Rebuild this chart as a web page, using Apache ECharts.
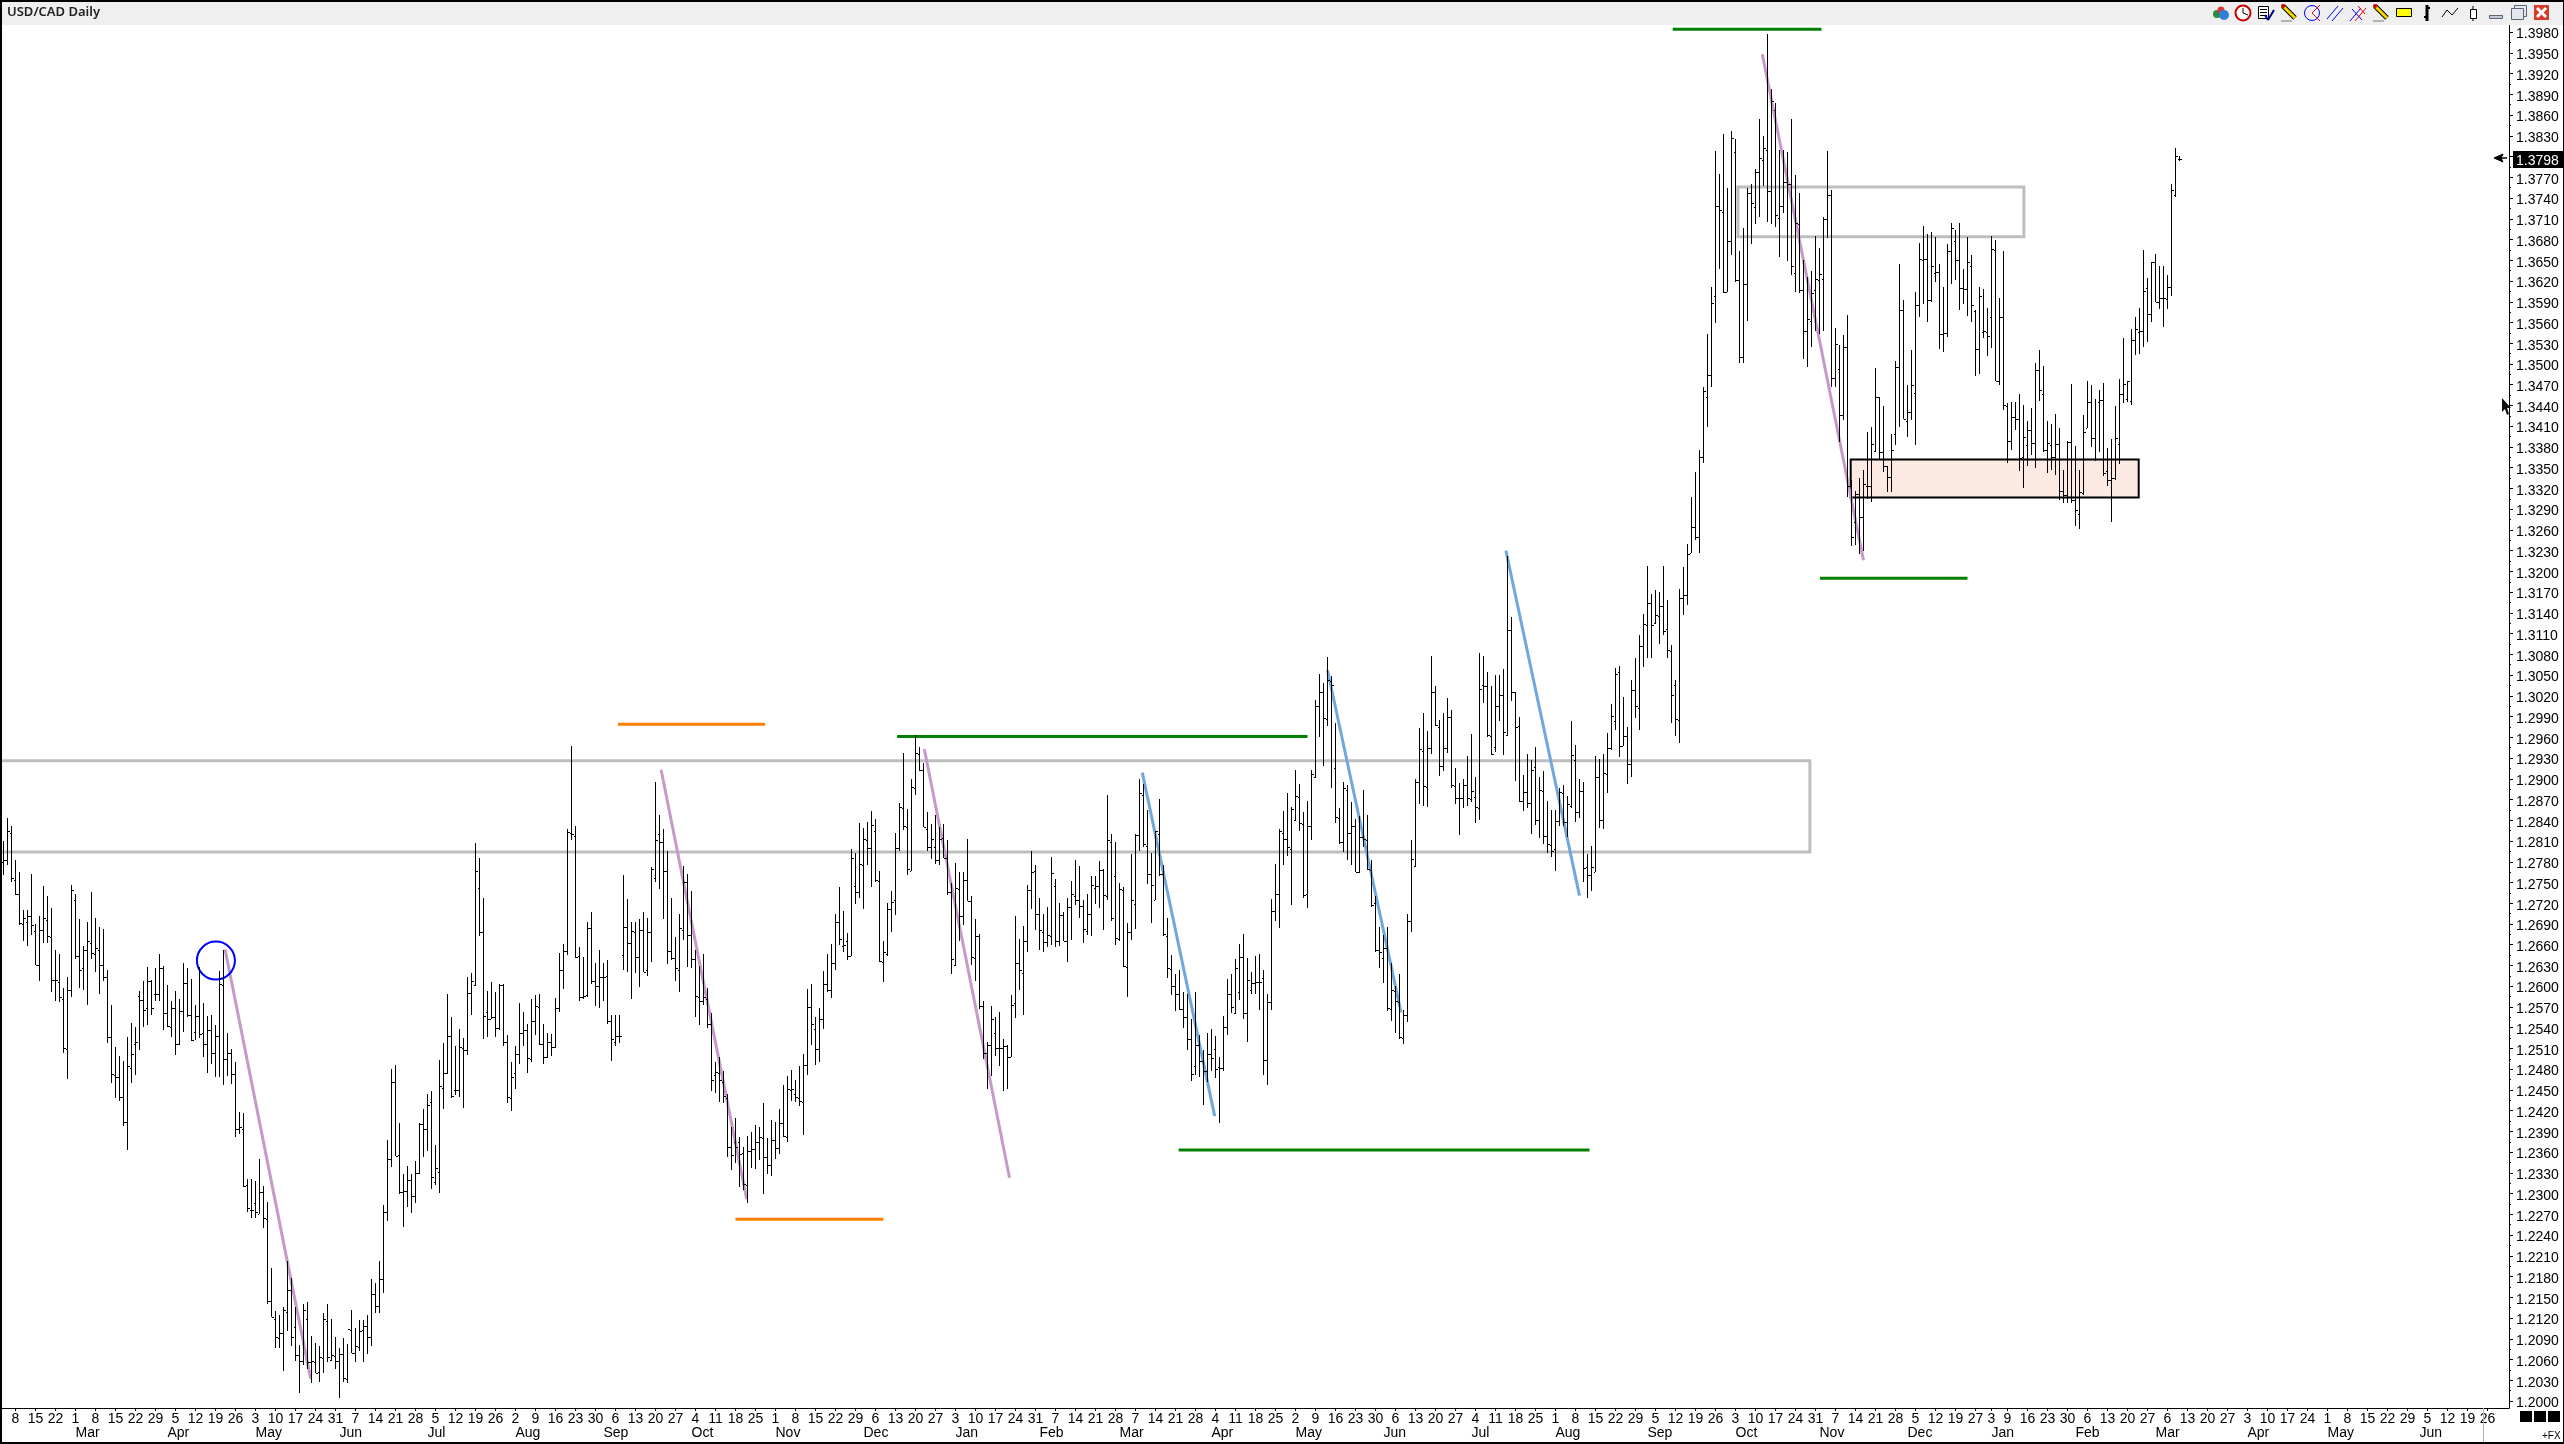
<!DOCTYPE html>
<html>
<head>
<meta charset="utf-8">
<title>USD/CAD Daily</title>
<script src="https://cdn.jsdelivr.net/npm/echarts@6/dist/echarts.min.js"></script>
<style>
  html, body { margin: 0; padding: 0; background: #fff; }
  #chart { width: 2564px; height: 1444px; }
</style>
</head>
<body>
<div id="chart"></div>
<script>
// daily prices, in pips (1.2812 = 12812), first bar is 8 Feb
const highs = [
12812,12846,12833,12784,12767,12712,12712,12764,12692,12703,
12747,12732,12715,12654,12648,12599,12616,12748,12736,12699,
12660,12695,12738,12700,12687,12685,12626,12575,12514,12501,
12494,12528,12549,12543,12595,12609,12630,12611,12628,12648,
12631,12604,12580,12595,12583,12635,12628,12612,12575,12630,
12577,12559,12560,12546,12624,12655,12535,12511,12492,12420,
12418,12323,12323,12320,12352,12313,12290,12194,12132,12127,
12138,12205,12180,12138,12083,12143,12145,12096,12086,12081,
12129,12142,12121,12094,12079,12093,12084,12134,12108,12119,
12119,12126,12179,12172,12205,12286,12380,12482,12488,12404,
12330,12342,12330,12349,12404,12424,12446,12450,12372,12495,
12520,12591,12558,12515,12540,12527,12615,12621,12809,12787,
12730,12595,12608,12593,12605,12605,12531,12492,12515,12577,
12565,12548,12583,12589,12591,12548,12534,12533,12585,12650,
12663,12830,12949,12834,12658,12644,12695,12709,12635,12654,
12635,12640,12560,12560,12560,12763,12728,12695,12695,12699,
12709,12701,12774,12897,12849,12829,12798,12730,12673,12707,
12776,12764,12740,12655,12631,12649,12600,12563,12492,12500,
12480,12446,12399,12411,12384,12369,12385,12391,12401,12399,
12433,12383,12408,12405,12425,12459,12472,12481,12466,12487,
12504,12598,12605,12558,12570,12624,12649,12663,12706,12746,
12711,12679,12801,12795,12838,12831,12839,12856,12844,12769,
12668,12723,12740,12823,12867,12939,12858,12902,12965,12948,
12925,12854,12836,12849,12832,12837,12814,12751,12780,12767,
12767,12815,12732,12699,12677,12581,12521,12573,12557,12565,
12526,12517,12589,12704,12670,12689,12749,12798,12778,12729,
12707,12717,12789,12757,12723,12709,12730,12754,12785,12776,
12727,12736,12762,12762,12783,12771,12879,12822,12810,12751,
12745,12693,12793,12822,12901,12895,12857,12794,12827,12873,
12778,12700,12647,12619,12626,12593,12590,12554,12593,12532,
12510,12535,12540,12530,12499,12559,12613,12620,12642,12663,
12678,12643,12622,12646,12648,12626,12591,12728,12779,12830,
12856,12881,12861,12915,12895,12854,12870,12914,13016,13054,
13041,13078,13050,12982,12860,12897,12893,12868,12844,12848,
12886,12850,12785,12732,12688,12676,12688,12635,12602,12620,
12567,12706,12814,12902,12975,12997,12971,13080,13036,12987,
12997,13019,13002,12917,12896,12902,12935,12967,12905,13084,
13080,13056,13036,13052,13052,13061,13224,13136,13028,12991,
12908,12938,12929,12948,12904,12913,12870,12857,12857,12888,
12893,12877,12986,12951,12902,12897,12793,12805,12935,12931,
12938,12968,13010,13062,13065,13020,12977,13045,13076,13110,
13141,13210,13170,13175,13172,13210,13161,13096,13045,13176,
13208,13242,13310,13346,13377,13469,13545,13614,13810,13777,
13834,13757,13839,13828,13666,13698,13757,13762,13784,13857,
13832,13979,13900,13879,13811,13811,13809,13856,13775,13749,
13653,13628,13637,13687,13670,13715,13810,13753,13554,13529,
13544,13573,13334,13318,13337,13349,13403,13411,13496,13454,
13441,13355,13400,13507,13647,13594,13472,13522,13606,13677,
13701,13690,13693,13685,13646,13614,13675,13706,13696,13706,
13639,13686,13660,13580,13614,13611,13583,13687,13681,13597,
13665,13446,13447,13447,13459,13442,13420,13439,13503,13522,
13499,13420,13415,13430,13410,13349,13391,13473,13383,13348,
13428,13478,13471,13451,13464,13475,13380,13393,13441,13480,
13539,13478,13552,13570,13583,13667,13627,13649,13661,13643,
13644,13631,13762,13815,13803]

const lows = [
12763,12777,12752,12734,12691,12667,12660,12676,12632,12609,
12665,12665,12594,12581,12579,12506,12468,12587,12641,12600,
12596,12575,12642,12623,12591,12610,12520,12462,12441,12436,
12400,12365,12462,12474,12509,12543,12546,12560,12581,12581,
12538,12543,12529,12502,12517,12536,12558,12523,12524,12527,
12500,12477,12490,12471,12471,12459,12472,12460,12384,12388,
12311,12276,12267,12267,12273,12252,12143,12123,12079,12079,
12046,12103,12081,12060,12013,12054,12048,12028,12042,12029,
12043,12058,12060,12048,12007,12029,12028,12071,12058,12074,
12058,12070,12081,12129,12130,12158,12263,12340,12356,12302,
12253,12283,12274,12288,12331,12355,12364,12309,12315,12303,
12424,12475,12441,12445,12442,12426,12502,12560,12603,12675,
12526,12529,12555,12528,12538,12516,12433,12422,12453,12490,
12516,12476,12493,12532,12517,12490,12498,12501,12512,12565,
12598,12647,12814,12643,12580,12583,12587,12605,12574,12570,
12581,12547,12494,12515,12520,12625,12623,12583,12621,12601,
12622,12617,12637,12753,12743,12699,12634,12640,12610,12594,
12669,12630,12629,12558,12546,12575,12541,12451,12447,12435,
12433,12355,12336,12346,12312,12307,12289,12339,12338,12350,
12301,12330,12328,12352,12360,12384,12377,12436,12435,12429,
12387,12474,12517,12488,12493,12540,12594,12585,12625,12661,
12652,12640,12645,12721,12730,12714,12778,12745,12753,12637,
12608,12645,12680,12705,12798,12828,12763,12768,12879,12913,
12832,12798,12786,12779,12778,12787,12734,12620,12631,12668,
12691,12725,12632,12610,12569,12496,12454,12472,12501,12486,
12451,12454,12499,12556,12597,12560,12651,12713,12683,12655,
12651,12658,12661,12658,12660,12668,12637,12669,12720,12701,
12664,12676,12674,12721,12715,12683,12726,12696,12661,12668,
12630,12587,12669,12685,12797,12803,12750,12694,12726,12762,
12674,12614,12589,12566,12568,12542,12510,12465,12474,12470,
12430,12464,12480,12469,12404,12480,12532,12563,12562,12582,
12555,12522,12590,12590,12568,12473,12459,12567,12697,12686,
12778,12791,12719,12841,12826,12730,12715,12814,12903,12962,
12921,12978,12889,12838,12808,12796,12784,12777,12767,12766,
12804,12770,12717,12651,12629,12607,12566,12551,12535,12525,
12518,12550,12681,12775,12866,12863,12861,12938,12979,12906,
12913,12939,12889,12865,12820,12860,12862,12868,12838,12843,
13012,12963,12936,12941,12985,12936,12964,13014,12899,12868,
12855,12860,12822,12835,12817,12808,12795,12789,12768,12834,
12833,12818,12860,12839,12845,12752,12729,12740,12767,12831,
12829,12882,12943,12972,12934,12950,12895,12905,12990,12973,
13063,13076,13076,13126,13097,13110,13077,12982,12964,12954,
13139,13153,13228,13247,13228,13359,13411,13468,13561,13640,
13604,13606,13659,13621,13504,13504,13564,13676,13704,13715,
13760,13708,13705,13700,13657,13720,13651,13630,13606,13604,
13509,13497,13526,13549,13545,13549,13684,13469,13468,13389,
13421,13310,13238,13240,13227,13231,13307,13303,13375,13365,
13346,13317,13317,13385,13411,13423,13396,13421,13385,13570,
13589,13562,13592,13620,13523,13520,13541,13618,13624,13580,
13589,13572,13563,13485,13487,13539,13514,13525,13477,13472,
13436,13359,13377,13406,13347,13322,13354,13370,13352,13448,
13375,13344,13349,13341,13305,13301,13301,13301,13268,13263,
13312,13409,13382,13361,13375,13340,13326,13274,13334,13358,
13445,13447,13442,13515,13517,13526,13534,13562,13591,13582,
13556,13582,13600,13744,13796]

const opens = [
12781,12784,12823,12755,12736,12692,12695,12703,12682,12633,
12684,12698,12673,12611,12608,12584,12511,12596,12727,12645,
12628,12654,12665,12649,12655,12632,12615,12528,12473,12470,
12442,12405,12483,12519,12588,12582,12570,12609,12591,12591,
12628,12563,12543,12570,12518,12566,12606,12560,12536,12559,
12534,12519,12538,12505,12530,12604,12496,12505,12475,12396,
12395,12314,12279,12288,12273,12305,12265,12147,12120,12093,
12101,12131,12162,12109,12068,12060,12120,12059,12059,12044,
12064,12118,12061,12067,12060,12070,12034,12105,12072,12080,
12104,12110,12094,12157,12140,12178,12276,12352,12463,12358,
12305,12306,12321,12298,12332,12402,12396,12435,12319,12333,
12455,12477,12530,12452,12452,12512,12510,12592,12604,12744,
12680,12565,12555,12558,12542,12604,12522,12441,12476,12504,
12535,12539,12497,12551,12572,12518,12499,12522,12514,12571,
12625,12653,12824,12819,12645,12586,12589,12686,12610,12603,
12615,12617,12552,12522,12530,12647,12687,12664,12681,12644,
12683,12625,12681,12758,12822,12810,12769,12653,12643,12625,
12684,12752,12676,12641,12587,12581,12584,12547,12474,12477,
12464,12441,12369,12377,12377,12361,12315,12363,12366,12376,
12383,12355,12343,12379,12368,12404,12384,12452,12446,12440,
12435,12488,12572,12540,12511,12554,12605,12596,12636,12695,
12660,12667,12646,12747,12738,12778,12814,12802,12827,12754,
12637,12649,12714,12726,12802,12860,12832,12769,12889,12938,
12914,12830,12804,12804,12785,12816,12787,12738,12633,12743,
12703,12755,12725,12643,12674,12574,12505,12517,12535,12513,
12512,12515,12500,12577,12635,12621,12667,12741,12769,12707,
12681,12666,12674,12747,12667,12705,12668,12716,12733,12726,
12718,12682,12707,12744,12747,12770,12733,12811,12761,12670,
12741,12630,12681,12721,12821,12879,12805,12765,12727,12822,
12764,12675,12627,12602,12590,12569,12557,12526,12487,12517,
12494,12479,12504,12511,12485,12483,12543,12590,12563,12594,
12644,12563,12596,12606,12608,12614,12495,12579,12711,12735,
12824,12815,12800,12842,12876,12836,12736,12834,12904,13007,
13027,12989,13044,12917,12845,12810,12886,12824,12834,12767,
12818,12814,12770,12722,12654,12643,12657,12569,12595,12579,
12527,12561,12697,12776,12897,12942,12890,12946,13027,12977,
12920,12946,12992,12892,12874,12874,12893,12873,12876,12860,
13037,13036,12964,12948,13007,13023,12965,13117,13027,12979,
12870,12883,12867,12919,12842,12885,12819,12806,12800,12841,
12881,12840,12862,12929,12854,12884,12775,12763,12767,12904,
12842,12909,12946,12985,13057,12950,12964,12924,13030,13005,
13094,13124,13156,13127,13137,13152,13118,13087,13037,12987,
13163,13168,13228,13266,13252,13368,13454,13486,13601,13730,
13722,13606,13680,13809,13623,13512,13617,13749,13729,13779,
13797,13811,13752,13870,13713,13731,13765,13763,13634,13705,
13609,13549,13564,13609,13624,13625,13712,13746,13481,13495,
13428,13526,13326,13273,13314,13280,13326,13326,13376,13454,
13374,13354,13338,13401,13497,13580,13419,13433,13460,13588,
13653,13654,13594,13633,13635,13546,13547,13665,13680,13653,
13612,13611,13643,13579,13524,13548,13548,13570,13667,13477,
13570,13441,13391,13426,13423,13367,13385,13406,13388,13494,
13458,13378,13385,13367,13386,13318,13313,13389,13305,13285,
13316,13409,13447,13395,13447,13450,13347,13334,13337,13386,
13458,13451,13449,13536,13548,13549,13612,13574,13649,13592,
13598,13596,13614,13747,13799]

const closes = [
12784,12826,12758,12736,12693,12700,12703,12690,12633,12684,
12700,12674,12611,12611,12586,12512,12597,12741,12646,12626,
12654,12667,12650,12657,12633,12616,12528,12475,12471,12442,
12405,12486,12504,12521,12582,12568,12609,12570,12591,12628,
12563,12545,12571,12518,12566,12606,12560,12524,12559,12533,
12519,12538,12506,12530,12605,12496,12505,12475,12396,12398,
12313,12281,12279,12275,12305,12266,12147,12123,12095,12101,
12134,12162,12094,12068,12060,12134,12059,12060,12043,12065,
12121,12065,12068,12060,12070,12035,12106,12072,12081,12103,
12110,12094,12157,12140,12178,12276,12352,12463,12357,12304,
12306,12322,12298,12332,12402,12396,12430,12326,12339,12457,
12477,12530,12443,12452,12514,12510,12592,12609,12769,12680,
12559,12554,12557,12542,12604,12521,12442,12470,12504,12535,
12539,12498,12552,12574,12518,12499,12522,12514,12571,12625,
12653,12825,12822,12644,12586,12588,12686,12610,12603,12615,
12615,12552,12525,12530,12530,12688,12664,12682,12644,12683,
12623,12681,12771,12814,12810,12769,12653,12643,12628,12686,
12752,12676,12642,12588,12581,12587,12548,12466,12478,12466,
12443,12370,12358,12370,12360,12316,12363,12366,12377,12384,
12355,12344,12380,12368,12404,12385,12453,12453,12442,12436,
12488,12572,12548,12511,12554,12605,12597,12636,12695,12670,
12662,12646,12787,12738,12779,12815,12802,12835,12755,12638,
12651,12714,12724,12802,12861,12833,12772,12890,12939,12914,
12832,12803,12815,12785,12815,12787,12738,12641,12744,12703,
12755,12725,12644,12674,12573,12506,12517,12554,12513,12512,
12515,12500,12575,12635,12626,12667,12741,12767,12707,12683,
12666,12676,12766,12667,12705,12668,12716,12736,12726,12718,
12685,12707,12748,12747,12770,12734,12813,12700,12672,12743,
12631,12681,12726,12821,12881,12807,12765,12749,12826,12765,
12677,12628,12603,12591,12569,12557,12526,12475,12517,12494,
12479,12504,12498,12482,12483,12543,12590,12572,12628,12644,
12563,12611,12606,12608,12608,12495,12579,12711,12735,12826,
12815,12804,12859,12877,12838,12734,12834,12909,13008,13027,
12990,13045,13038,12847,12810,12889,12824,12834,12767,12818,
12815,12771,12720,12655,12651,12657,12570,12597,12580,12529,
12560,12697,12786,12898,12945,12892,12946,13027,12980,12920,
12946,12991,12893,12874,12874,12893,12874,12884,12861,13032,
13036,12965,12938,13007,13023,12970,13117,13027,12977,12870,
12883,12867,12915,12842,12886,12819,12808,12797,12841,12883,
12840,12865,12936,12854,12884,12773,12763,12774,12904,12842,
12910,12946,12993,13053,12950,12964,12924,13030,13008,13094,
13126,13156,13125,13139,13152,13116,13089,13023,12988,13164,
13168,13227,13266,13252,13368,13463,13486,13590,13731,13725,
13606,13680,13829,13624,13512,13617,13749,13735,13779,13800,
13815,13752,13882,13717,13731,13765,13763,13644,13706,13609,
13549,13567,13604,13625,13632,13712,13746,13481,13531,13428,
13527,13326,13252,13314,13280,13329,13326,13386,13454,13374,
13354,13339,13378,13497,13580,13423,13433,13472,13588,13654,
13654,13594,13643,13635,13545,13547,13665,13698,13653,13612,
13611,13650,13588,13524,13600,13549,13543,13668,13478,13570,
13443,13391,13426,13423,13366,13396,13407,13388,13494,13464,
13378,13388,13367,13386,13318,13313,13389,13305,13291,13317,
13403,13447,13395,13364,13450,13345,13334,13337,13395,13458,
13473,13477,13536,13553,13549,13607,13575,13649,13592,13598,
13597,13614,13754,13803,13798]

// first trading day of each week, as printed on the time axis
const dayLabels = [
'8','15','22','1','8','15','22','29','5','12','19','26','3','10','17','24','31',
'7','14','21','28','5','12','19','26','2','9','16','23','30','6','13','20','27',
'4','11','18','25','1','8','15','22','29','6','13','20','27','3','10','17','24','31',
'7','14','21','28','7','14','21','28','4','11','18','25','2','9','16','23','30',
'6','13','20','27','4','11','18','25','1','8','15','22','29','5','12','19','26',
'3','10','17','24','31','7','14','21','28','5','12','19','27','3','9','16','23','30',
'6','13','20','27','6','13','20','27','3','10','17','24','1','8','15','22','29','5','12','19','26']

// month names and the bar each one starts on
const monthLabels = ['Mar','Apr','May','Jun','Jul','Aug','Sep','Oct','Nov','Dec','Jan','Feb','Mar','Apr','May','Jun','Jul','Aug','Sep','Oct','Nov','Dec','Jan','Feb','Mar','Apr','May','Jun']
const monthBars = [18,41,63,84,106,128,150,172,193,215,238,259,279,302,323,345,367,388,411,433,454,476,497,518,538,561,581,604]

const priceTicks = [
1.398,1.395,1.392,1.389,1.386,1.383,1.377,1.374,1.371,1.368,1.365,1.362,1.359,1.356,1.353,1.35,1.347,1.344,1.341,
1.338,1.335,1.332,1.329,1.326,1.323,1.32,1.317,1.314,1.311,1.308,1.305,1.302,1.299,1.296,1.293,1.29,1.287,1.284,1.281,
1.278,1.275,1.272,1.269,1.266,1.263,1.26,1.257,1.254,1.251,1.248,1.245,1.242,1.239,1.236,1.233,1.23,1.227,1.224,1.221,
1.218,1.215,1.212,1.209,1.206,1.203,1.2]

// drawn studies: [bar, price, bar, price]
const purpleLines = [[55.4,1.2655,76.8,1.2034],[164.4,1.2915,185.8,1.2294],[230.2,1.2945,251.5,1.2325],[439.7,1.3950,465,1.3218]]
const blueLines = [[284.7,1.2911,302.8,1.2414],[331,1.3059,349.4,1.2564],[375.6,1.3232,394,1.2733]]
const greenLines = [[417.3,1.3986,454.5,1.3986],[454.1,1.3192,491,1.3192],[223.4,1.2963,326,1.2963],[293.8,1.2365,396.5,1.2365]]
const orangeLines = [[153.6,1.2981,190.4,1.2981],[183,1.2265,220,1.2265]]
// boxes: [bar, bar, top price, bottom price]
const grayBoxes = [[-3,451.6,1.2928,1.2796],[433.6,505.1,1.3758,1.3686]]
const pinkBoxes = [[461.8,533.8,1.3364,1.3309]]
const circles = [[53.1,1.2639]]

const yMin = 1.19919
const yMax = 1.39923
const xMin = -0.875
const xMax = 626.375

// glyphs sit a little above the 'middle' anchor, and the ticks a little above the glyphs
const labelNudge = -0.00015
const tickNudge = 0.0002

// the week of 26 Dec and 2 Jan lost a holiday each, so those two are one bar short
const weekBars = []
dayLabels.forEach((d, i) => {
  if (i === 0) weekBars.push(3)
  else if (i === 99 || i === 100) weekBars.push(weekBars[i - 1] + 4)
  else weekBars.push(weekBars[i - 1] + 5)
})

const barData = highs.map((h, i) => [i, opens[i] / 10000, h / 10000, lows[i] / 10000, closes[i] / 10000])
const FONT = '"Liberation Sans", Arial, sans-serif'

const renderBar = (params, api) => {
  const x = Math.floor(api.coord([api.value(0), 1.3])[0])
  const yO = Math.round(api.coord([0, api.value(1)])[1])
  const yH = Math.round(api.coord([0, api.value(2)])[1])
  const yL = Math.round(api.coord([0, api.value(3)])[1])
  const yC = Math.round(api.coord([0, api.value(4)])[1])
  const fill = { fill: '#000' }
  return {
    type: 'group',
    children: [
      { type: 'rect', shape: { x: x, y: yH, width: 1, height: Math.max(1, yL - yH) }, style: fill },
      { type: 'rect', shape: { x: x - 1, y: yO, width: 1, height: 1 }, style: fill },
      { type: 'rect', shape: { x: x + 1, y: yC, width: 2, height: 1 }, style: fill }
    ]
  }
}

const lineSeries = (data, color, width) => ({
  type: 'custom',
  coordinateSystem: 'cartesian2d',
  silent: true,
  z: 2,
  data: data,
  renderItem: (params, api) => {
    const a = api.coord([api.value(0), api.value(1)])
    const b = api.coord([api.value(2), api.value(3)])
    return {
      type: 'line',
      shape: { x1: a[0], y1: a[1], x2: b[0], y2: b[1] },
      style: { stroke: color, lineWidth: width }
    }
  }
})

const boxSeries = (data, fill, stroke, width) => ({
  type: 'custom',
  coordinateSystem: 'cartesian2d',
  silent: true,
  z: 1,
  data: data,
  renderItem: (params, api) => {
    const a = api.coord([api.value(0), api.value(2)])
    const b = api.coord([api.value(1), api.value(3)])
    return {
      type: 'rect',
      shape: { x: a[0], y: a[1], width: b[0] - a[0], height: b[1] - a[1] },
      style: { fill: fill, stroke: stroke, lineWidth: width }
    }
  }
})

// toolbar and window furniture, not part of the data
const ln = (x1, y1, x2, y2, stroke, lineWidth) => ({ type: 'line', z: 10, shape: { x1, y1, x2, y2 }, style: { stroke, lineWidth: lineWidth || 1 } })
const box = (x, y, width, height, fill, stroke) => ({ type: 'rect', z: 10, shape: { x, y, width, height }, style: { fill, stroke: stroke || 'none', lineWidth: 1 } })
const dot = (cx, cy, r, fill, stroke, lineWidth) => ({ type: 'circle', z: 10, shape: { cx, cy, r }, style: { fill, stroke: stroke || 'none', lineWidth: lineWidth || 1 } })
const pencil = x => [
  ln(x + 2, 6, x + 14, 18, '#000', 5),
  ln(x + 2, 6, x + 14, 18, '#f5d800', 3),
  dot(x + 2, 6, 2, '#d00000'),
  ln(x, 21, x + 11, 21, '#777', 1)
]

const chrome = [
  box(0, 0, 2564, 25, '#efefef'),
  // globe
  dot(2217, 14, 4, '#2e8b3d'), dot(2221, 10, 3.5, '#d83a3a'), dot(2224, 15, 5, '#2f7fd8'),
  // clock
  dot(2243, 13, 7.5, '#fff', '#d00000', 2), ln(2243, 13, 2243, 8, '#000', 1), ln(2243, 13, 2248, 15, '#000', 1),
  // list with tick
  box(2258.5, 6.5, 10, 12, '#fff', '#000'),
  ln(2260, 9.5, 2267, 9.5, '#000'), ln(2260, 12.5, 2267, 12.5, '#000'), ln(2260, 15.5, 2267, 15.5, '#000'),
  ln(2265, 15, 2268, 20, '#00008b', 2), ln(2268, 20, 2274, 10, '#00008b', 2),
  ...pencil(2281),
  // circle with rays
  dot(2312, 13, 7.5, 'none', '#0000ff', 1), ln(2320, 5, 2312, 13, '#f00000'), ln(2312, 13, 2320, 21, '#f00000'),
  // channel
  ln(2327, 19, 2338, 6, '#0000ff'), ln(2332, 21, 2343, 8, '#0000ff'),
  // pitchfork
  ln(2350, 21, 2361, 8, '#0000ff'), ln(2355, 21, 2366, 8, '#f00000'), ln(2352, 9, 2362, 20, '#0000ff'), ln(2358, 6, 2365, 14, '#f00000'),
  ...pencil(2373),
  box(2396.5, 8.5, 15, 8, '#ffff00', '#000'),
  // bar, line, candle
  ln(2427, 5, 2427, 21, '#000', 3), ln(2424, 17, 2427, 17, '#000', 2), ln(2427, 8, 2430, 8, '#000', 2),
  ln(2442, 17, 2447, 10, '#000'), ln(2447, 10, 2452, 15, '#000'), ln(2452, 15, 2458, 8, '#000'),
  ln(2473, 6, 2473, 21, '#000'), box(2470.5, 9.5, 6, 9, '#fff', '#000'),
  // window buttons
  box(2489.5, 15.5, 13, 3, '#c5ccd8', '#5a6478'),
  box(2514.5, 5.5, 12, 11, '#e4e7ee', '#5a6478'), box(2511.5, 8.5, 12, 11, '#e4e7ee', '#5a6478'),
  box(2534, 5, 15, 15, '#d83a2a'), ln(2537, 8, 2546, 17, '#fff', 3), ln(2546, 8, 2537, 17, '#fff', 3),
  // frame
  box(0, 0, 2564, 2, '#000'), box(0, 0, 2, 1444, '#000'), box(0, 1442, 2564, 2, '#000'), box(2563, 0, 1, 1444, '#000'),
  // lower right corner
  box(2520, 1411, 12, 11, '#000'), box(2534, 1411, 12, 11, '#000'), box(2548, 1411, 12, 11, '#000'),
  ln(2483.5, 1408, 2483.5, 1442, '#b4b4b4', 1),
  { type: 'text', z: 10, style: { x: 2542, y: 1431, text: '+FX', fill: '#000', font: '10px ' + FONT } },
  // mouse pointer
  { type: 'polygon', z: 10, shape: { points: [[2502, 398], [2502, 412], [2505, 409], [2507, 415], [2509, 414], [2507, 408], [2511, 408]] }, style: { fill: '#111' } }
]

const chart = echarts.init(document.getElementById('chart'), null, { renderer: 'canvas' })

chart.setOption({
  animation: false,
  backgroundColor: '#fff',
  title: {
    text: 'USD/CAD Daily',
    left: 7,
    top: 6,
    padding: 0,
    z: 20,
    textStyle: { fontFamily: '"Noto Sans", sans-serif', fontSize: 13, fontWeight: 600, color: '#222' }
  },
  grid: { left: 0, top: 25, width: 2509, height: 1383 },
  xAxis: [
    {
      type: 'value',
      min: xMin,
      max: xMax,
      position: 'bottom',
      splitLine: { show: false },
      axisLine: { onZero: false, lineStyle: { color: '#000', width: 1 } },
      axisTick: { length: 3, inside: false, lineStyle: { color: '#000' }, customValues: weekBars },
      axisLabel: {
        customValues: weekBars,
        margin: 4,
        color: '#000',
        fontFamily: FONT,
        fontSize: 14,
        formatter: v => dayLabels[weekBars.indexOf(v)]
      }
    },
    {
      type: 'value',
      min: xMin,
      max: xMax,
      position: 'bottom',
      splitLine: { show: false },
      axisLine: { show: false, onZero: false },
      axisTick: { show: false },
      axisLabel: {
        customValues: monthBars,
        margin: 18,
        align: 'left',
        color: '#000',
        fontFamily: FONT,
        fontSize: 14,
        formatter: v => monthLabels[monthBars.indexOf(v)]
      }
    }
  ],
  yAxis: [
    {
      type: 'value',
      min: yMin,
      max: yMax,
      position: 'right',
      splitLine: { show: false },
      axisLine: { show: true, onZero: false, lineStyle: { color: '#000', width: 1 } },
      axisTick: { show: true, length: 4, lineStyle: { color: '#000' }, customValues: priceTicks.concat([1.38]).map(v => v + tickNudge) },
      axisLabel: {
        customValues: priceTicks.map(v => v + labelNudge),
        margin: 7,
        color: '#000',
        fontFamily: FONT,
        fontSize: 14,
        formatter: v => (v - labelNudge).toFixed(4)
      }
    },
    {
      type: 'value',
      min: yMin,
      max: yMax,
      position: 'right',
      splitLine: { show: false },
      axisLine: { show: false, onZero: false },
      axisTick: { show: true, length: 2, lineStyle: { color: '#000' }, customValues: priceTicks.map(v => v + 0.0015 + tickNudge) },
      axisLabel: { show: false }
    }
  ],
  graphic: chrome,
  series: [
    boxSeries(grayBoxes, 'rgba(0,0,0,0)', '#bebebe', 3),
    boxSeries(pinkBoxes, '#fbe9e2', '#000', 2),
    lineSeries(purpleLines, '#c59ac6', 3),
    lineSeries(blueLines, '#6fa8dc', 3),
    lineSeries(greenLines, '#008000', 3),
    lineSeries(orangeLines, '#ff8000', 3),
    {
      type: 'custom',
      coordinateSystem: 'cartesian2d',
      silent: true,
      z: 2,
      data: circles,
      renderItem: (params, api) => {
        const c = api.coord([api.value(0), api.value(1)])
        return { type: 'circle', shape: { cx: c[0], cy: c[1], r: 19 }, style: { fill: 'none', stroke: '#0000ff', lineWidth: 2 } }
      }
    },
    {
      type: 'custom',
      coordinateSystem: 'cartesian2d',
      silent: true,
      z: 3,
      data: barData,
      renderItem: renderBar
    },
    {
      // current price tag on the axis
      type: 'custom',
      coordinateSystem: 'cartesian2d',
      silent: true,
      z: 5,
      data: [[closes[closes.length - 1] / 10000]],
      renderItem: (params, api) => {
        const y = Math.round(api.coord([0, api.value(0)])[1])
        return {
          type: 'group',
          children: [
            { type: 'rect', shape: { x: 2513, y: y - 8, width: 50, height: 17 }, style: { fill: '#000' } },
            { type: 'text', style: { x: 2516, y: y + 2, text: api.value(0).toFixed(4), fill: '#fff', font: '14px ' + FONT, verticalAlign: 'middle' } },
            { type: 'polygon', shape: { points: [[2494, y - 1], [2503, y - 5], [2501, y - 1], [2507, y - 1], [2501, y - 1], [2503, y + 3]] }, style: { fill: '#000', stroke: '#000', lineWidth: 1 } }
          ]
        }
      }
    }
  ]
})
</script>
</body>
</html>
